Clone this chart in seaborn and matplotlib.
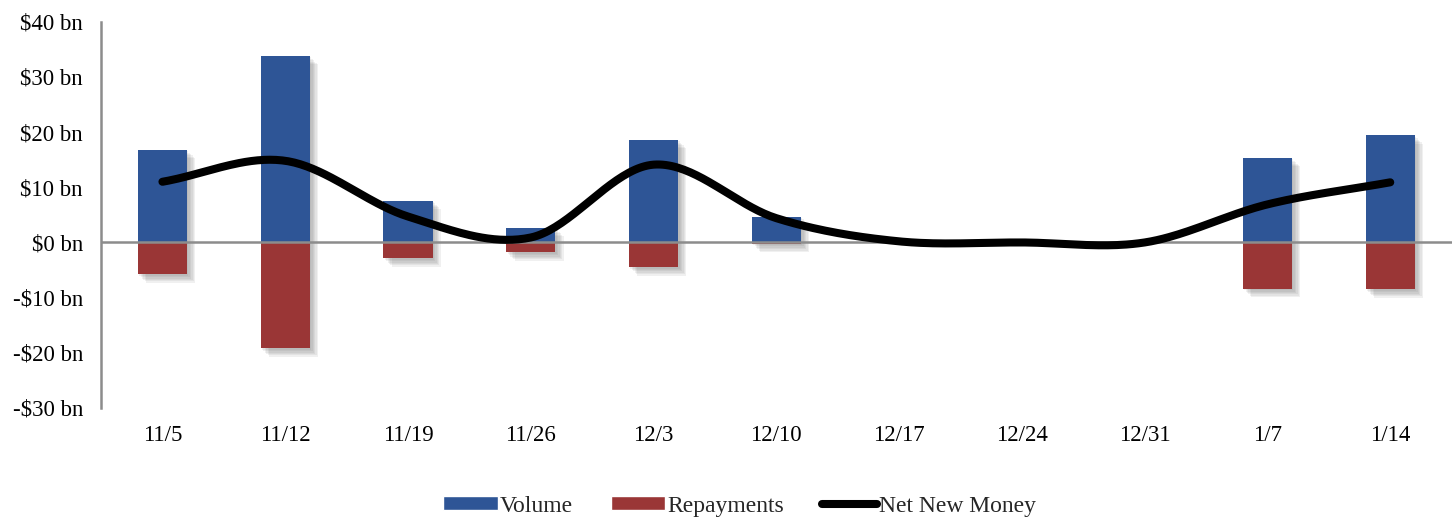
import numpy as np
import pandas as pd
import seaborn as sns
import matplotlib.pyplot as plt
from matplotlib.patches import Patch
from matplotlib.lines import Line2D
import matplotlib.patheffects as pe

weeks = ["11/5", "11/12", "11/19", "11/26", "12/3", "12/10", "12/17", "12/24", "12/31", "1/7", "1/14"]
volume = [16.8, 33.8, 7.6, 2.7, 18.6, 4.7, 0.0, 0.0, 0.0, 15.3, 19.4]
repayments = [-5.8, -19.2, -2.9, -1.8, -4.5, -0.2, 0.0, 0.0, 0.0, -8.4, -8.5]
net_new_money = [11.0, 14.8, 4.7, 0.9, 14.1, 4.4, 0.2, 0.0, 0.0, 6.9, 10.9]
y_ticks = [-30, -20, -10, 0, 10, 20, 30, 40]

BLUE = "#2E5596"
RED = "#9A3636"

sns.set_theme(style="white")
plt.rcParams["font.family"] = ["Liberation Serif", "DejaVu Serif"]

fig = plt.figure(figsize=(14.56, 5.18), dpi=100)
ax = fig.add_axes([0.0694, 0.2124, 0.9276, 0.7456])

df = pd.DataFrame({"week": weeks, "volume": volume, "repayments": repayments})

# soft drop shadow built from several faint offset copies
shadow = [pe.SimplePatchShadow(offset=(d, -d), shadow_rgbFace="#7a7a7a", alpha=0.11)
          for d in (1, 2, 3, 4, 5, 6)] + [pe.Normal()]

sns.barplot(data=df, x="week", y="volume", color=BLUE, saturation=1, width=0.4, ax=ax, zorder=2)
sns.barplot(data=df, x="week", y="repayments", color=RED, saturation=1, width=0.4, ax=ax, zorder=2)
for p in ax.patches:
    p.set_path_effects(shadow)
    p.set_linewidth(0)


def smooth(y, n=40):
    # Catmull-Rom spline through the weekly points
    y = np.asarray(y, float)
    pts = np.concatenate([[2 * y[0] - y[1]], y, [2 * y[-1] - y[-2]]])
    xs, ys = [], []
    for i in range(len(y) - 1):
        p0, p1, p2, p3 = pts[i], pts[i + 1], pts[i + 2], pts[i + 3]
        t = np.linspace(0, 1, n, endpoint=(i == len(y) - 2))
        seg = 0.5 * ((2 * p1) + (-p0 + p2) * t + (2 * p0 - 5 * p1 + 4 * p2 - p3) * t ** 2
                     + (-p0 + 3 * p1 - 3 * p2 + p3) * t ** 3)
        xs.append(i + t)
        ys.append(seg)
    return np.concatenate(xs), np.concatenate(ys)


sx, sy = smooth(net_new_money)
sns.lineplot(x=sx, y=sy, color="black", linewidth=5.8, ax=ax, zorder=4,
             solid_capstyle="round", sort=False)

ax.axhline(0, color="#8c8c8c", linewidth=1.8, zorder=3)
ax.set_xlim(-0.5, len(weeks) - 0.5)
ax.set_ylim(-30, 40)
ax.set_yticks(y_ticks)
ax.set_yticklabels([("-$%d bn" % abs(v)) if v < 0 else ("$%d bn" % v) for v in y_ticks])
ax.set_xlabel("")
ax.set_ylabel("")
ax.tick_params(axis="both", length=0, labelsize=16.5, colors="black")
ax.tick_params(axis="x", pad=12)
ax.tick_params(axis="y", pad=13)
for s in ["top", "right", "bottom"]:
    ax.spines[s].set_visible(False)
ax.spines["left"].set_color("#8c8c8c")
ax.spines["left"].set_linewidth(1.8)

handles = [Patch(facecolor=BLUE, label="Volume"),
           Patch(facecolor=RED, label="Repayments"),
           Line2D([0], [0], color="black", linewidth=5.8, solid_capstyle="round", label="Net New Money")]
fig.legend(handles=handles, loc="center", bbox_to_anchor=(0.508, 0.023), ncol=3, frameon=False,
           fontsize=17, handlelength=2.3, handleheight=0.5, handletextpad=0.1, columnspacing=1.6)

fig.savefig("out.png", dpi=100)
